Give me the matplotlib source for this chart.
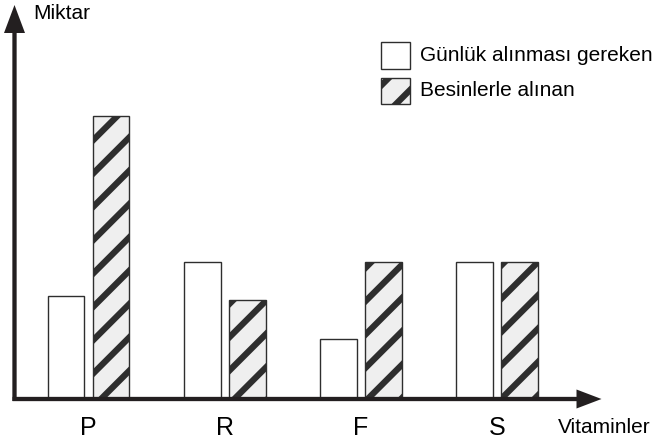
import matplotlib
matplotlib.use("Agg")
import matplotlib.pyplot as plt
from matplotlib.patches import FancyArrow, Rectangle
from matplotlib.transforms import IdentityTransform

# values (arbitrary units, no scale shown)
vitaminler = ["P", "R", "F", "S"]
gunluk = [3.0, 4.0, 1.75, 4.0]      # Günlük alınması gereken
besin = [8.25, 2.9, 4.0, 4.0]       # Besinlerle alınan
seri_adlari = ["Günlük alınması gereken", "Besinlerle alınan"]

plt.rcParams['font.family'] = ['Liberation Sans', 'DejaVu Sans']
plt.rcParams['hatch.linewidth'] = 4.5

W, H = 657, 444
fig = plt.figure(figsize=(W / 100, H / 100), dpi=100, facecolor='white')

# axes box in pixels: origin (14.5, 399), top 10, right 601
x0, y0, x1, y1 = 14.5, 399, 601, 10
ax = fig.add_axes([x0 / W, 1 - y0 / H, (x1 - x0) / W, (y0 - y1) / H])

axis_col = '#231f20'
edge_col = '#2e2e2e'
hatch_face = '#efefef'
bw = 0.271
off = 0.165
xs = list(range(len(vitaminler)))

ax.bar([x - off for x in xs], gunluk, width=bw, color='white',
       edgecolor=edge_col, linewidth=1.0, zorder=2)
ax.bar([x + off for x in xs], besin, width=bw, color=hatch_face,
       edgecolor=edge_col, linewidth=1.0, hatch='/', zorder=2)

ax.set_xlim(-0.543, 3.76)
ax.set_ylim(0, 11.36)

ax.set_xticks(xs)
ax.set_xticklabels(vitaminler, fontsize=18)
ax.tick_params(axis='x', length=0, pad=12)
ax.set_yticks([])
for s in ax.spines.values():
    s.set_visible(False)

# axis arrows, drawn in pixel coordinates (y measured from the bottom)
px = IdentityTransform()
fig.add_artist(FancyArrow(14.5, H - 401, 0, 396, width=4.3, head_width=21,
                          head_length=28, length_includes_head=True,
                          color=axis_col, lw=0, transform=px))
fig.add_artist(FancyArrow(12.5, H - 399, 589, 0, width=4.3, head_width=19,
                          head_length=25, length_includes_head=True,
                          color=axis_col, lw=0, transform=px))

fig.text(33 / W, 1 - 19 / H, 'Miktar', fontsize=15, va='baseline', ha='left')
fig.text(558 / W, 1 - 433 / H, 'Vitaminler', fontsize=15, va='baseline', ha='left')

# legend, laid out by hand to match the boxes of the original
fig.add_artist(Rectangle((381, H - 69), 29, 27, facecolor='white',
                         edgecolor=edge_col, lw=1.0, transform=px))
fig.add_artist(Rectangle((381, H - 104), 29, 26, facecolor=hatch_face,
                         edgecolor=edge_col, lw=1.0, hatch='/', transform=px))
fig.text(420 / W, 1 - 55.5 / H, seri_adlari[0], fontsize=15, va='center', ha='left')
fig.text(420 / W, 1 - 91 / H, seri_adlari[1], fontsize=15, va='center', ha='left')

fig.savefig('out.png', dpi=100)
